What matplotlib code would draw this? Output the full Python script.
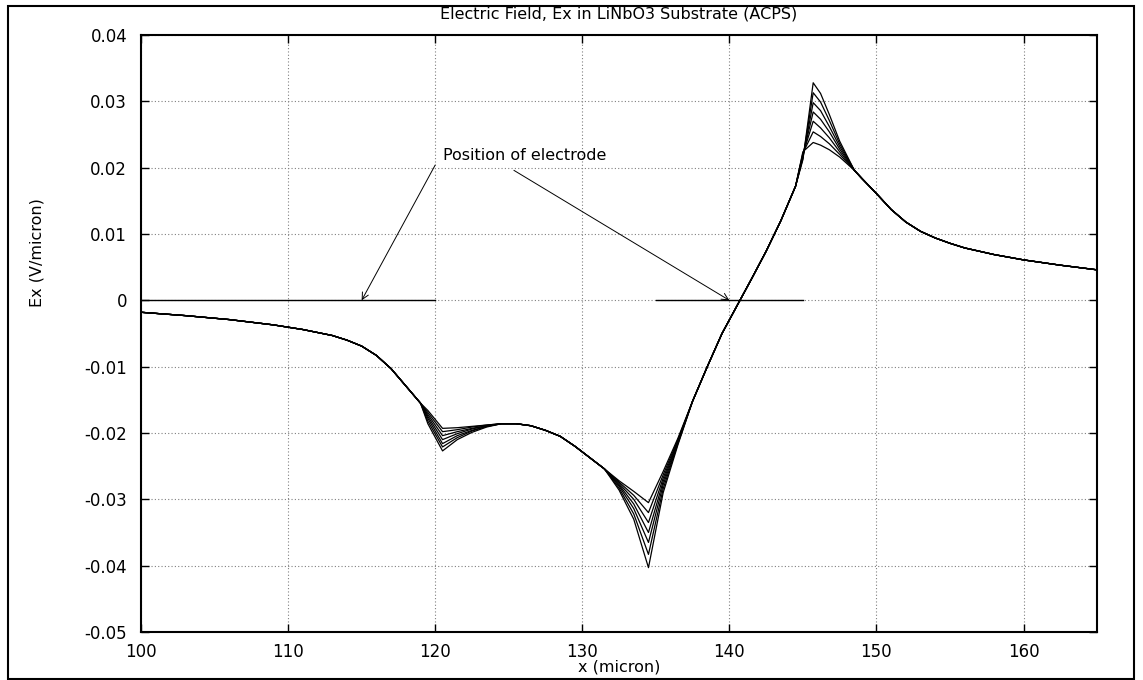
import matplotlib
matplotlib.use("Agg")
import matplotlib.pyplot as plt
from matplotlib.patches import Rectangle

plt.rcParams['font.family'] = ['DejaVu Sans']

# sample positions along x (micron)
x_pos = [100, 103, 106, 109, 111, 113, 114, 115, 116, 117, 118, 118.5, 119,
         119.5, 120.5, 121.5, 122.5, 123.5,
         124.5, 125.5, 126.5, 127.5, 128.5, 129.5, 130.5, 131.5,
         132.5, 133.5, 134.5, 135.5, 136.5,
         137.5, 138.5, 139.5, 140.5, 141.5, 142.5, 143.5, 144.5,
         145, 145.7, 146.2, 146.8, 147.5,
         148.5, 149, 150, 151, 152, 153, 154, 155, 156, 157, 158, 160, 162.5, 165]

# Ex (V/micron): stretches where all seven curves lie on top of each other
left_part = [-0.0018, -0.0023, -0.0029, -0.0037, -0.0044, -0.0053, -0.0060,
             -0.0069, -0.0083, -0.0103, -0.0129, -0.0142, -0.0155]
mid_part = [-0.0186, -0.0186, -0.0189, -0.0196, -0.0205, -0.0220, -0.0237, -0.0254]
rise_part = [-0.0152, -0.0100, -0.0050, -0.0009, 0.0032, 0.0074, 0.0120, 0.0172]
tail_part = [0.0196, 0.0184, 0.0161, 0.0137, 0.0118, 0.0104, 0.0094, 0.0086,
             0.0079, 0.0074, 0.0069, 0.0061, 0.0053, 0.0046]

# ...and where they split apart (one row per curve)
edge_120 = [
    [-0.0166, -0.0193, -0.0192, -0.0190, -0.0188],
    [-0.0169, -0.0198, -0.0195, -0.0191, -0.0188],
    [-0.0172, -0.0204, -0.0198, -0.0193, -0.0189],
    [-0.0175, -0.0210, -0.0201, -0.0194, -0.0189],
    [-0.0178, -0.0216, -0.0204, -0.0196, -0.0190],
    [-0.0182, -0.0221, -0.0207, -0.0197, -0.0190],
    [-0.0186, -0.0227, -0.0210, -0.0199, -0.0191],
]
edge_135 = [
    [-0.0272, -0.0288, -0.0305, -0.0258, -0.0208],
    [-0.0274, -0.0294, -0.0320, -0.0263, -0.0210],
    [-0.0276, -0.0300, -0.0335, -0.0268, -0.0212],
    [-0.0278, -0.0307, -0.0350, -0.0273, -0.0213],
    [-0.0280, -0.0314, -0.0365, -0.0278, -0.0215],
    [-0.0283, -0.0322, -0.0383, -0.0284, -0.0216],
    [-0.0286, -0.0330, -0.0403, -0.0290, -0.0218],
]
edge_145 = [
    [0.0212, 0.0328, 0.0312, 0.0280, 0.0240],
    [0.0214, 0.0313, 0.0299, 0.0271, 0.0236],
    [0.0216, 0.0298, 0.0286, 0.0262, 0.0232],
    [0.0218, 0.0284, 0.0273, 0.0254, 0.0228],
    [0.0220, 0.0270, 0.0260, 0.0245, 0.0224],
    [0.0222, 0.0254, 0.0247, 0.0236, 0.0220],
    [0.0224, 0.0238, 0.0234, 0.0227, 0.0216],
]

# electrode extents on the surface (micron)
electrodes = [(100, 120), (135, 145)]
arrow_tips = [(115, 0.0), (140, 0.0)]
arrow_tails = [(120.0, 0.0204), (125.35, 0.0196)]

fig = plt.figure(figsize=(11.43, 6.8), dpi=100)
ax = fig.add_axes([0.1234, 0.0706, 0.8364, 0.8779])

for a, b, c in zip(edge_120, edge_135, edge_145):
    ex = left_part + a + mid_part + b + rise_part + c + tail_part
    ax.plot(x_pos, ex, color='black', lw=0.9)

for x0, x1 in electrodes:
    ax.plot([x0, x1], [0, 0], color='black', lw=1.0)

ax.text(120.5, 0.0218, "Position of electrode", fontsize=11.5, va='center')
for tail, tip in zip(arrow_tails, arrow_tips):
    ax.annotate("", xy=tip, xytext=tail,
                arrowprops=dict(arrowstyle='->', color='black', lw=0.7,
                                shrinkA=0, shrinkB=0, mutation_scale=12))

ax.set_xlim(100, 165)
ax.set_ylim(-0.05, 0.04)
ax.set_xticks(range(100, 161, 10))
ax.set_yticks([-0.05, -0.04, -0.03, -0.02, -0.01, 0, 0.01, 0.02, 0.03, 0.04])
ax.set_yticklabels(['-0.05', '-0.04', '-0.03', '-0.02', '-0.01', '0',
                    '0.01', '0.02', '0.03', '0.04'])
ax.grid(True, color='#808080', linestyle=(0, (1, 2)), lw=0.8)
ax.tick_params(direction='in', length=6, width=1, top=True, right=True,
               labelsize=12)
ax.tick_params(axis='x', pad=8)
ax.tick_params(axis='y', pad=10)
for sp in ax.spines.values():
    sp.set_linewidth(1.5)

fig.text(0.5416, 1 - 14 / 680, "Electric Field, Ex in LiNbO3 Substrate (ACPS)",
         ha='center', va='center', fontsize=11.5)
fig.text(0.5416, 1 - 667 / 680, "x (micron)", ha='center', va='center',
         fontsize=11.5)
fig.text(37 / 1143, 1 - 253 / 680, "Ex (V/micron)", ha='center', va='center',
         rotation=90, fontsize=11.5)

fig.patches.append(Rectangle((8 / 1143, 1 / 680), 1126 / 1143, 673 / 680,
                             transform=fig.transFigure, fill=False,
                             edgecolor='black', lw=1.5))

fig.savefig("out.png", dpi=100)
